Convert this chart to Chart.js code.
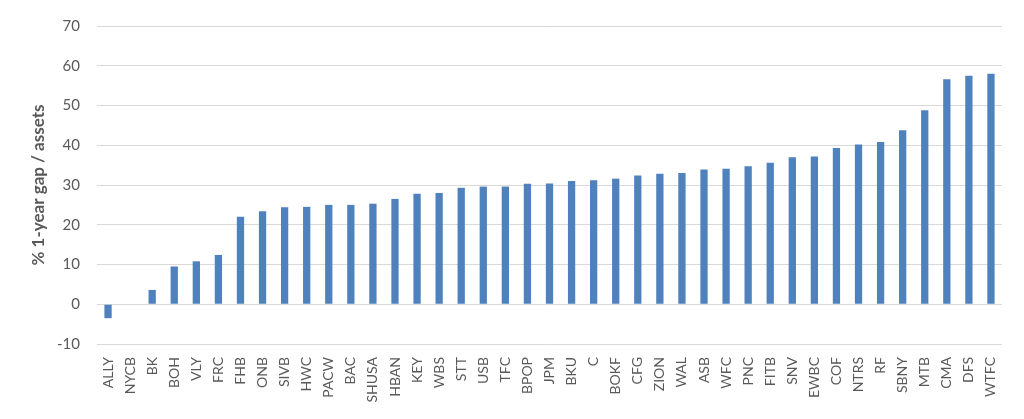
<!DOCTYPE html>
<html>
<head>
<meta charset="utf-8">
<script src="https://cdn.jsdelivr.net/npm/chart.js@4/dist/chart.umd.min.js"></script>
<style>
  html, body { margin: 0; padding: 0; background: #fff; }
  #wrap { width: 1024px; height: 419px; }
</style>
</head>
<body>
<div id="wrap"><canvas id="js-canvas-gap" width="1024" height="419"></canvas></div>
<script>
// Banks along the x-axis
const banks = ['ALLY', 'NYCB', 'BK', 'BOH', 'VLY', 'FRC', 'FHB', 'ONB', 'SIVB', 'HWC',
  'PACW', 'BAC', 'SHUSA', 'HBAN', 'KEY', 'WBS', 'STT', 'USB', 'TFC', 'BPOP',
  'JPM', 'BKU', 'C', 'BOKF', 'CFG', 'ZION', 'WAL', 'ASB', 'WFC', 'PNC',
  'FITB', 'SNV', 'EWBC', 'COF', 'NTRS', 'RF', 'SBNY', 'MTB', 'CMA', 'DFS', 'WTFC'];
// % 1-year gap / assets
const gap = [-3.5, 0, 3.6, 9.5, 10.8, 12.4, 22.0, 23.4, 24.4, 24.5,
  25.0, 25.0, 25.3, 26.5, 27.8, 28.0, 29.3, 29.6, 29.6, 30.3,
  30.4, 31.0, 31.2, 31.6, 32.4, 32.8, 33.0, 33.9, 34.1, 34.7,
  35.6, 37.0, 37.2, 39.3, 40.2, 40.8, 43.8, 48.8, 56.6, 57.5, 58.0];
const yMin = -10;
const yMax = 70;
const yStep = 10;
const yTitle = '% 1-year gap / assets';

const fontFamily = "Lato, 'Open Sans', sans-serif";
const textColor = '#595959';

const ctx = document.getElementById('js-canvas-gap');
new Chart(ctx, {
  type: 'bar',
  data: {
    labels: banks,
    datasets: [{
      data: gap,
      backgroundColor: '#4f81bd',
      borderWidth: 0,
      categoryPercentage: 1,
      barPercentage: 0.33
    }]
  },
  options: {
    responsive: false,
    animation: false,
    layout: { padding: { top: 21, right: 22, left: 28, bottom: 0 } },
    plugins: { legend: { display: false }, tooltip: { enabled: false } },
    scales: {
      x: {
        grid: { display: false },
        border: { display: false },
        ticks: {
          autoSkip: false,
          minRotation: 90,
          maxRotation: 90,
          color: textColor,
          padding: 5,
          font: { family: fontFamily, size: 14 }
        },
        afterFit: scale => { scale.height = 75; }
      },
      y: {
        min: yMin,
        max: yMax,
        border: { display: false },
        grid: { color: '#d9d9d9', lineWidth: 1, drawTicks: false },
        ticks: {
          stepSize: yStep,
          color: textColor,
          padding: 17,
          font: { family: fontFamily, size: 15 }
        },
        title: {
          display: true,
          text: yTitle,
          color: textColor,
          padding: 0,
          font: { family: fontFamily, size: 17, weight: 'bold' }
        },
        afterFit: scale => { scale.width = 69; }
      }
    }
  }
});
</script>
</body>
</html>
